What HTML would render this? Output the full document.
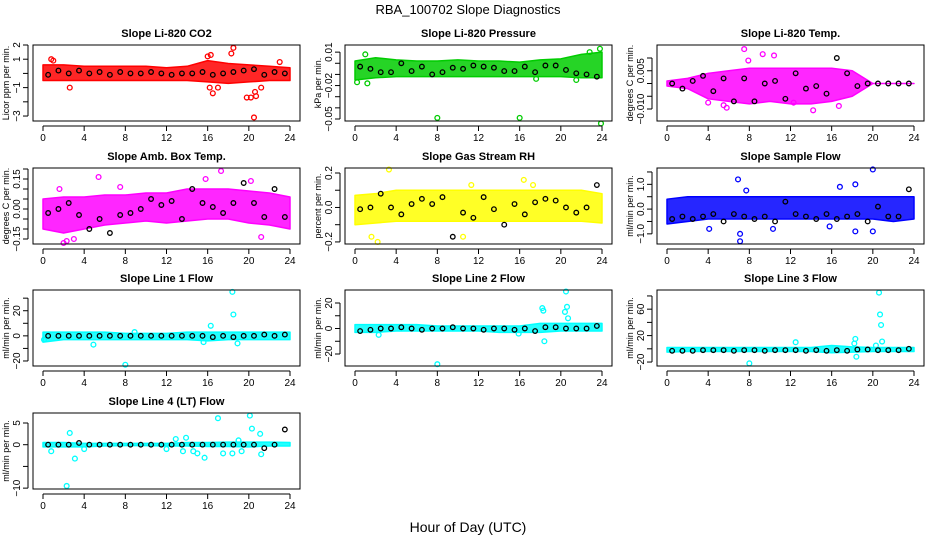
<!DOCTYPE html>
<html><head><meta charset="utf-8"><style>
body{margin:0;background:#fff;}
svg{display:block;font-family:"Liberation Sans",sans-serif;}
</style></head><body>
<svg id="c" width="936" height="540" xmlns="http://www.w3.org/2000/svg">
<text x="468" y="14" text-anchor="middle" font-size="13">RBA_100702  Slope Diagnostics</text>
<text x="468" y="532" text-anchor="middle" font-size="14">Hour of Day (UTC)</text>
</svg>
<script>
// ---- data (estimated from reference) ----
const bandHours=[0,2,4,6,8,10,12,14,16,18,20,22,24];
const blackHours=[0.5,1.5,2.5,3.5,4.5,5.5,6.5,7.5,8.5,9.5,10.5,11.5,12.5,13.5,14.5,15.5,16.5,17.5,18.5,19.5,20.5,21.5,22.5,23.5];
const xTicks=[0,4,8,12,16,20,24];

const co2Lo=[-0.5,-0.5,-0.5,-0.5,-0.5,-0.5,-0.5,-0.5,-0.6,-0.7,-0.6,-0.5,-0.5];
const co2Hi=[0.6,0.6,0.5,0.5,0.5,0.5,0.4,0.5,0.9,0.7,0.6,0.5,0.4];
const co2OutX=[0.8,1.0,2.6,16.0,16.3,16.5,16.2,17.0,18.3,18.5,19.8,20.2,20.5,20.6,20.7,21.2,23.0];
const co2OutY=[1.0,0.9,-1.0,1.2,1.3,-1.4,-1.0,-1.0,1.4,1.8,-1.7,-1.7,-3.1,-1.3,-1.6,-1.0,0.8];
const co2Black=[-0.1,0.2,0.0,0.2,0.0,0.1,-0.1,0.1,0.0,0.0,0.1,0.0,-0.1,0.0,0.0,0.1,-0.1,0.0,0.1,0.2,0.3,-0.1,0.1,0.0];

const presLo=[-0.015,-0.013,-0.012,-0.012,-0.012,-0.012,-0.012,-0.012,-0.012,-0.012,-0.012,-0.013,-0.013];
const presHi=[0.002,0.005,0.003,0.002,0.002,0.003,0.002,0.002,0.001,0.003,0.004,0.008,0.010];
const presOutX=[0.2,1.0,1.2,8,16,23.9,17.6,21.5,22.8,23.8];
const presOutY=[-0.017,0.008,-0.018,-0.049,-0.049,-0.054,-0.014,-0.015,0.010,0.013];
const presBlack=[-0.003,-0.005,-0.008,-0.008,0.0,-0.007,-0.003,-0.010,-0.008,-0.004,-0.005,-0.002,-0.003,-0.004,-0.007,-0.007,-0.003,-0.008,-0.002,-0.002,-0.006,-0.009,-0.010,-0.012];

const tempLo=[-0.001,-0.002,-0.006,-0.007,-0.008,-0.007,-0.008,-0.008,-0.007,-0.005,0,0,0];
const tempHi=[0.001,0.002,0.004,0.005,0.006,0.006,0.006,0.006,0.006,0.005,0,0,0];
const tempOutX=[7.5,9.3,10.4,7.9,5.8,5.5,4.0,12.3,16.7,14.2];
const tempOutY=[0.0135,0.0115,0.011,0.009,-0.0095,-0.0085,-0.0075,-0.0075,-0.0088,-0.0105];
const tempBlack=[0.0,-0.002,0.001,0.003,-0.003,0.002,-0.007,0.002,-0.007,0.0,0.001,-0.006,0.004,-0.002,-0.001,-0.004,0.010,0.004,-0.001,0.0,0.0,0.0,0.0,0.0];

const boxLo=[-0.1,-0.12,-0.1,-0.08,-0.07,-0.06,-0.07,-0.06,-0.05,-0.05,-0.07,-0.08,-0.1];
const boxHi=[0.05,0.06,0.06,0.07,0.07,0.08,0.08,0.1,0.1,0.1,0.09,0.08,0.06];
const boxOutX=[1.6,2.0,2.3,5.4,7.5,15.8,17.3,20.2,21.2,3.0];
const boxOutY=[0.1,-0.17,-0.16,0.16,0.11,0.15,0.19,0.14,-0.14,-0.15];
const boxBlack=[-0.02,0.0,0.03,-0.03,-0.1,-0.05,-0.12,-0.03,-0.02,0.0,0.05,0.02,0.04,-0.05,0.1,0.03,0.01,-0.02,0.03,0.13,0.03,-0.04,0.1,-0.04];

const rhLo=[-0.1,-0.09,-0.08,-0.08,-0.08,-0.08,-0.08,-0.08,-0.08,-0.08,-0.08,-0.08,-0.09];
const rhHi=[0.07,0.08,0.1,0.1,0.1,0.1,0.1,0.1,0.1,0.1,0.1,0.1,0.08];
const rhOutX=[3.3,2.2,1.6,11.3,16.4,17.3,10.5];
const rhOutY=[0.22,-0.2,-0.17,0.13,0.16,0.13,-0.17];
const rhBlack=[-0.01,0.0,0.08,0.0,-0.04,0.02,0.05,0.02,0.06,-0.17,-0.03,-0.06,0.06,-0.01,-0.1,0.02,-0.04,0.03,0.05,0.04,0.0,-0.03,0.0,0.13];

const flowLo=[-0.6,-0.5,-0.4,-0.4,-0.4,-0.4,-0.4,-0.4,-0.4,-0.4,-0.4,-0.5,-0.4];
const flowHi=[0.4,0.5,0.5,0.5,0.5,0.5,0.5,0.5,0.5,0.5,0.5,0.5,0.5];
const flowOutX=[6.9,7.1,7.7,4.1,10.3,16.8,18.3,20.0,20.0,18.3,7.1,15.8];
const flowOutY=[1.2,-1.3,0.75,-0.8,-0.8,0.9,1.0,1.6,-0.9,-0.9,-1.0,-0.7];
const flowBlack=[-0.4,-0.3,-0.4,-0.3,-0.2,-0.5,-0.2,-0.3,-0.4,-0.3,-0.5,0.3,-0.2,-0.3,-0.4,-0.2,-0.4,-0.3,-0.2,-0.5,0.1,-0.3,-0.3,0.8];

const l1Lo=[-5,-3,-3,-3,-3,-3,-3,-3,-4,-3,-3,-3,-3];
const l1Hi=[3,3,3,3,2,2,2,3,3,3,3,3,3];
const l1OutX=[4.9,8.0,18.4,18.5,16.3,15.6,18.9,8.9,0.1];
const l1OutY=[-7,-23,35,17,8,-5,-6,3,-3];
const l1Black=[0,0,0,0,0,0,0,0,0,0,0,0,0,0,0,0,-1,0,-1,0,0,1,0,1];

const l2Lo=[-3,-3,-2,-2,-2,-2,-2,-3,-3,-3,-2,-2,-2];
const l2Hi=[3,3,3,3,2,2,2,2,2,4,4,4,4];
const l2OutX=[8.0,2.3,18.2,18.3,18.4,20.5,20.6,20.4,20.7,15.9];
const l2OutY=[-28,-5,16,14,-10,29,17,13,8,-4];
const l2Black=[-2,-1,0,0,1,0,-1,0,0,1,0,0,-1,0,0,-1,0,-2,1,1,0,0,0,2];

const l3Lo=[-5,-4,-4,-4,-4,-4,-4,-4,-6,-5,-4,-4,-4];
const l3Hi=[2,2,2,2,2,2,2,2,5,3,2,2,2];
const l3OutX=[8.0,12.5,18.3,18.4,20.6,20.7,20.8,20.9,18.2,20.3];
const l3OutY=[-22,10,15,-12,85,52,36,11,8,5];
const l3Black=[-3,-3,-3,-2,-2,-2,-3,-2,-2,-3,-2,-2,-2,-3,-2,-3,-2,-3,-1,-1,-2,-2,-2,0];

const l4Lo=[-0.5,-0.5,-0.5,-0.3,-0.2,-0.2,-0.3,-0.3,-0.4,-0.4,-0.5,-0.3,-0.3];
const l4Hi=[0.5,0.5,0.3,0.3,0.3,0.3,0.3,0.5,0.5,0.6,0.6,0.6,0.5];
const l4OutX=[0.8,2.3,2.6,3.1,4.0,12.0,12.9,13.6,13.9,14.6,15.0,15.7,17.0,17.5,18.4,19.0,20.1,20.3,21.2,21.1,19.3];
const l4OutY=[-1.5,-9.5,2.7,-3.2,-1,-1,1.3,-1.5,1.6,-1.5,-2,-3,6.1,-2,-2,1,6.7,3.7,-2.2,2.5,-1.5];
const l4Black=[0,0,0,0.4,0,0,0,0,0,0,0,0,0,0,0,0,0,0,0,0,0,-0.8,0,3.5];

// ---- layout ----
const colL=[33,345,657], colR=[300,612,924], x0=[43,355,667];
const rowT=[45,168,290,413], rowB=[121,244,366,489];
const panels=[
 {name:'co2',title:'Slope Li-820 CO2',yl:'Licor ppm per min.',r:0,c:0,col:'#ff0000',ymin:-3.35,ymax:2.0,ticks:[2,1,0,-1,-2,-3],labels:[2,1,-1,-3],fmt:v=>String(v).replace('-','\u2212'),lo:co2Lo,hi:co2Hi,ox:co2OutX,oy:co2OutY,bk:co2Black},
 {name:'pressure',title:'Slope Li-820 Pressure',yl:'kPa per min.',r:0,c:1,col:'#00cc00',ymin:-0.0518,ymax:0.0164,ticks:[0.01,0,-0.01,-0.02,-0.03,-0.04,-0.05],labels:[0.01,-0.02,-0.05],fmt:v=>v.toFixed(2).replace('-','\u2212'),lo:presLo,hi:presHi,ox:presOutX,oy:presOutY,bk:presBlack},
 {name:'temp',title:'Slope Li-820 Temp.',yl:'degrees C per min.',r:0,c:2,col:'#ff00ff',ymin:-0.0147,ymax:0.0151,ticks:[0.01,0.005,0,-0.005,-0.01],labels:[0.005,-0.01],fmt:v=>v.toFixed(3).replace('-','\u2212'),lo:tempLo,hi:tempHi,ox:tempOutX,oy:tempOutY,bk:tempBlack},
 {name:'box-temp',title:'Slope Amb. Box Temp.',yl:'degrees C per min.',r:1,c:0,col:'#ff00ff',ymin:-0.175,ymax:0.205,ticks:[0.2,0.15,0.1,0.05,0,-0.05,-0.1,-0.15],labels:[0.15,0,-0.15],fmt:v=>v.toFixed(2).replace('-','\u2212'),lo:boxLo,hi:boxHi,ox:boxOutX,oy:boxOutY,bk:boxBlack},
 {name:'rh',title:'Slope Gas Stream RH',yl:'percent per min.',r:1,c:1,col:'#ffff00',ymin:-0.212,ymax:0.229,ticks:[0.2,0.1,0,-0.1,-0.2],labels:[0.2,0,-0.2],fmt:v=>v.toFixed(1).replace('-','\u2212'),lo:rhLo,hi:rhHi,ox:rhOutX,oy:rhOutY,bk:rhBlack},
 {name:'sample-flow',title:'Slope Sample Flow',yl:'ml/min per min.',r:1,c:2,col:'#0000ff',ymin:-1.41,ymax:1.66,ticks:[1.5,1,0.5,0,-0.5,-1],labels:[1,0,-1],fmt:v=>v.toFixed(1).replace('-','\u2212'),lo:flowLo,hi:flowHi,ox:flowOutX,oy:flowOutY,bk:flowBlack},
 {name:'line1-flow',title:'Slope Line 1 Flow',yl:'ml/min per min.',r:2,c:0,col:'#00ffff',ymin:-24,ymax:36.5,ticks:[30,20,10,0,-10,-20],labels:[20,0,-20],fmt:v=>String(v).replace('-','\u2212'),lo:l1Lo,hi:l1Hi,ox:l1OutX,oy:l1OutY,bk:l1Black},
 {name:'line2-flow',title:'Slope Line 2 Flow',yl:'ml/min per min.',r:2,c:1,col:'#00ffff',ymin:-29.4,ymax:30.2,ticks:[20,10,0,-10,-20],labels:[20,0,-20],fmt:v=>String(v).replace('-','\u2212'),lo:l2Lo,hi:l2Hi,ox:l2OutX,oy:l2OutY,bk:l2Black},
 {name:'line3-flow',title:'Slope Line 3 Flow',yl:'ml/min per min.',r:2,c:2,col:'#00ffff',ymin:-26,ymax:89,ticks:[80,60,40,20,0,-20],labels:[60,20,-20],fmt:v=>String(v).replace('-','\u2212'),lo:l3Lo,hi:l3Hi,ox:l3OutX,oy:l3OutY,bk:l3Black},
 {name:'line4-flow',title:'Slope Line 4 (LT) Flow',yl:'ml/min per min.',r:3,c:0,col:'#00ffff',ymin:-10.2,ymax:7.3,ticks:[5,0,-5,-10],labels:[5,0,-10],fmt:v=>String(v).replace('-','\u2212'),lo:l4Lo,hi:l4Hi,ox:l4OutX,oy:l4OutY,bk:l4Black}
];

const svg=document.getElementById('c');
const NS='http://www.w3.org/2000/svg';
function mk(tag,attrs,parent){const e=document.createElementNS(NS,tag);for(const k in attrs)e.setAttribute(k,attrs[k]);(parent||svg).appendChild(e);return e;}

panels.forEach(p=>{
  const L=colL[p.c],R=colR[p.c],T=rowT[p.r],B=rowB[p.r],X0=x0[p.c];
  const sx=h=>X0+h*(247/24);
  const sy=v=>B-(v-p.ymin)/(p.ymax-p.ymin)*(B-T);
  const g=mk('g',{});
  
  
  const t=mk('text',{x:(L+R)/2,y:T-8,'text-anchor':'middle','font-size':11,'font-weight':'bold'},g);
  t.textContent=p.title;
  
  
  // band
  let d='';
  bandHours.forEach((h,i)=>{d+=(i?'L':'M')+sx(h)+','+sy(p.hi[i]);});
  for(let i=bandHours.length-1;i>=0;i--)d+='L'+sx(bandHours[i])+','+sy(p.lo[i]);
  const band=mk('path',{d:d+'Z',fill:p.col,'fill-opacity':0.85,stroke:p.col,'stroke-width':1.5,'stroke-linejoin':'round'},g);
  
  
  p.ox.forEach((h,i)=>{
    const c=mk('circle',{cx:sx(h),cy:sy(p.oy[i]),r:2.4,fill:'none',stroke:p.col,'stroke-width':1.3},g);
    
    
  });
  p.bk.forEach((v,i)=>{
    const c=mk('circle',{cx:sx(blackHours[i]),cy:sy(v),r:2.3,fill:'none',stroke:'#000','stroke-width':1.3},g);
    
    
  });
  // frame
  const fr=mk('rect',{x:L,y:T,width:R-L,height:B-T,fill:'none',stroke:'#000','stroke-width':1},g);
  
  
  // x axis
  mk('line',{x1:sx(0),x2:sx(24),y1:B+5,y2:B+5,stroke:'#000'},g);
  xTicks.forEach(h=>{
    mk('line',{x1:sx(h),x2:sx(h),y1:B+5,y2:B+10,stroke:'#000'},g);
    const tl=mk('text',{x:sx(h),y:B+20,'text-anchor':'middle','font-size':10},g);
    tl.textContent=h;
    
    
  });
  // y axis
  const ya=p.ticks;
  mk('line',{x1:L-5,x2:L-5,y1:sy(Math.max(...ya)),y2:sy(Math.min(...ya)),stroke:'#000'},g);
  ya.forEach(v=>{mk('line',{x1:L-10,x2:L-5,y1:sy(v),y2:sy(v),stroke:'#000'},g);});
  p.labels.forEach(v=>{
    const yy=sy(v);
    const tl=mk('text',{x:L-13,y:yy,'text-anchor':'middle','font-size':10,transform:'rotate(-90 '+(L-13)+' '+yy+')'},g);
    tl.textContent=p.fmt(v);
    
    
  });
  const yt=mk('text',{x:L-24,y:(T+B)/2,'text-anchor':'middle','font-size':9,transform:'rotate(-90 '+(L-24)+' '+(T+B)/2+')'},g);
  yt.textContent=p.yl;
  
  
});
</script>
</body></html>
